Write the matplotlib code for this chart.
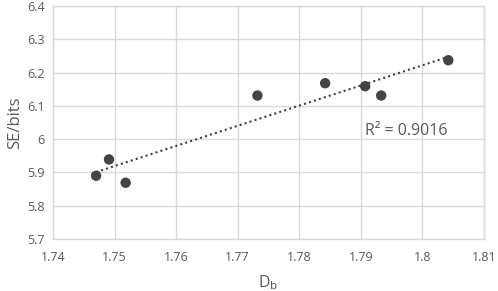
import matplotlib
matplotlib.use("Agg")
import matplotlib.pyplot as plt
import numpy as np

# values
db = [1.7470, 1.7491, 1.7518, 1.7732, 1.7842, 1.7907, 1.7933, 1.8042]
se = [5.890, 5.939, 5.869, 6.131, 6.168, 6.159, 6.131, 6.237]
x_ticks = [1.74, 1.75, 1.76, 1.77, 1.78, 1.79, 1.80, 1.81]
x_labels = ["1.74", "1.75", "1.76", "1.77", "1.78", "1.79", "1.8", "1.81"]
y_ticks = [5.7, 5.8, 5.9, 6.0, 6.1, 6.2, 6.3, 6.4]
y_labels = ["5.7", "5.8", "5.9", "6", "6.1", "6.2", "6.3", "6.4"]
r2_text = "R² = 0.9016"

plt.rcParams["font.family"] = ["Open Sans", "DejaVu Sans"]

GRID = "#d9d9d9"
TEXT = "#595959"

fig = plt.figure(figsize=(4.98, 2.91), dpi=100)
ax = fig.add_axes([0.1064, 0.1787, 0.8655, 0.8007])

# linear trendline over the data range
k, b = np.polyfit(db, se, 1)
xs = np.array([min(db), max(db)])
ax.plot(xs, k * xs + b, color="#404040", linestyle=(0, (1, 1.5)), linewidth=1.5, zorder=2)

ax.scatter(db, se, s=56, color="#444444", edgecolors="none", zorder=3)

ax.set_xlim(1.74, 1.81)
ax.set_ylim(5.7, 6.4)
ax.set_xticks(x_ticks)
ax.set_xticklabels(x_labels)
ax.set_yticks(y_ticks)
ax.set_yticklabels(y_labels)
ax.tick_params(length=0, labelsize=9, labelcolor=TEXT, pad=9)
ax.tick_params(axis="y", pad=6)
ax.grid(True, color=GRID, linewidth=1)
for sp in ax.spines.values():
    sp.set_color(GRID)
    sp.set_linewidth(1)
ax.set_axisbelow(True)

ax.set_xlabel("D$_\\mathrm{b}$", fontsize=11.5, color=TEXT, labelpad=6)
ax.set_ylabel("SE/bits", fontsize=12, color=TEXT, labelpad=3)
ax.text(1.7906, 6.025, r2_text, fontsize=11.5, color=TEXT, ha="left", va="center")

fig.savefig("out.png", dpi=100)
